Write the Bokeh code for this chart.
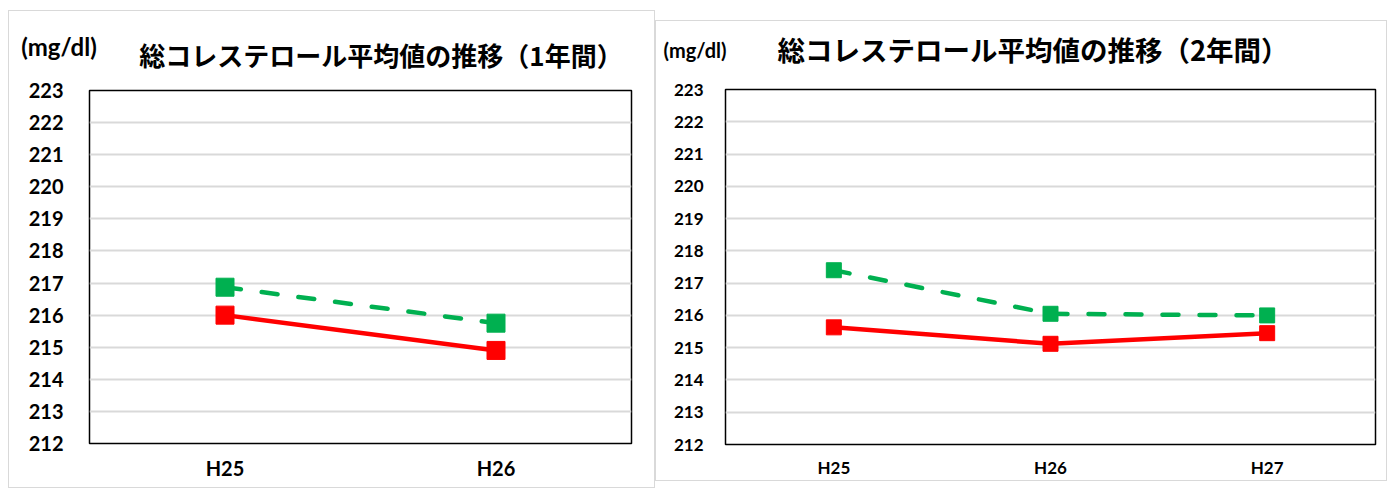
from bokeh.plotting import figure
from bokeh.layouts import row, column
from bokeh.models import Range1d, FixedTicker, Div
from bokeh.embed import file_html
from bokeh.resources import INLINE

# ---- data ----
cats_1y = ["H25", "H26"]
red_1y = [216.0, 214.9]
green_1y = [216.87, 215.75]

cats_2y = ["H25", "H26", "H27"]
red_2y = [215.63, 215.12, 215.45]
green_2y = [217.4, 216.05, 216.0]

y_ticks = list(range(212, 224))
title_1y = "総コレステロール平均値の推移（1年間）"
title_2y = "総コレステロール平均値の推移（2年間）"
unit_text = "(mg/dl)"

RED = "#ff0000"
GREEN = "#00b050"
JP = "Noto Sans CJK JP"
NUM = "Lato"


def header(width, height, title, title_fs, title_xy, unit_fs, unit_xy):
    span = ("position:absolute;left:{x}px;top:{y}px;transform:translate(-50%,-50%);"
            "white-space:nowrap;font-weight:bold;color:black;font-family:'{f}';font-size:{s};"
            "line-height:1;")
    html = (f'<div style="position:relative;width:{width}px;height:{height}px;">'
            f'<span style="{span.format(x=unit_xy[0], y=unit_xy[1], f=NUM, s=unit_fs)}">{unit_text}</span>'
            f'<span style="{span.format(x=title_xy[0], y=title_xy[1], f=JP, s=title_fs)}">{title}</span>'
            '</div>')
    return Div(text=html, width=width, height=height, margin=0)


def make(cats, red, green, width, height, borders, tick_fs, marker, ystand, xstand):
    p = figure(x_range=cats, y_range=Range1d(212, 223), width=width, height=height,
               output_backend="svg", toolbar_location=None, margin=0)
    p.min_border_left, p.min_border_right, p.min_border_top, p.min_border_bottom = borders
    p.outline_line_color = "black"
    p.outline_line_width = 1.5
    p.xgrid.grid_line_color = None
    p.ygrid.grid_line_color = "#d9d9d9"
    p.ygrid.grid_line_width = 2
    p.yaxis.ticker = FixedTicker(ticks=y_ticks)
    for ax in (p.xaxis[0], p.yaxis[0]):
        ax.axis_line_color = None
        ax.major_tick_line_color = None
        ax.minor_tick_line_color = None
        ax.major_tick_out = 0
        ax.major_tick_in = 0
        ax.minor_tick_out = 0
        ax.major_label_text_font = NUM
        ax.major_label_text_font_style = "bold"
        ax.major_label_text_font_size = tick_fs
        ax.major_label_text_color = "black"
    p.yaxis.major_label_standoff = ystand
    p.xaxis.major_label_standoff = xstand

    p.line(cats, green, line_color=GREEN, line_width=4.5, line_dash="16 21", line_cap="round")
    p.scatter(cats, green, marker="square", size=marker, fill_color=GREEN, line_color=GREEN)
    p.line(cats, red, line_color=RED, line_width=4.5)
    p.scatter(cats, red, marker="square", size=marker, fill_color=RED, line_color=RED)
    return p


card_style = {"border": "1px solid #d9d9d9", "background-color": "white"}

h1 = header(645, 66, title_1y, "26px", (372, 44), "24px", (50, 36))
p1 = make(cats_1y, red_1y, green_1y, 645, 410, (80, 23, 13, 44), "20px", 18, 26, 12)
card1 = column(h1, p1, spacing=0, margin=(10, 0, 0, 8), styles=card_style)

h2 = header(730, 55, title_2y, "27.5px", (377, 29), "20px", (39, 29))
p2 = make(cats_2y, red_2y, green_2y, 730, 404, (69, 11, 13, 36), "17px", 15, 22, 12)
card2 = column(h2, p2, spacing=0, margin=(20, 0, 0, 0), styles=card_style)

layout = row(card1, card2, spacing=0, margin=0)
open("out.html", "w").write(file_html(layout, INLINE))
